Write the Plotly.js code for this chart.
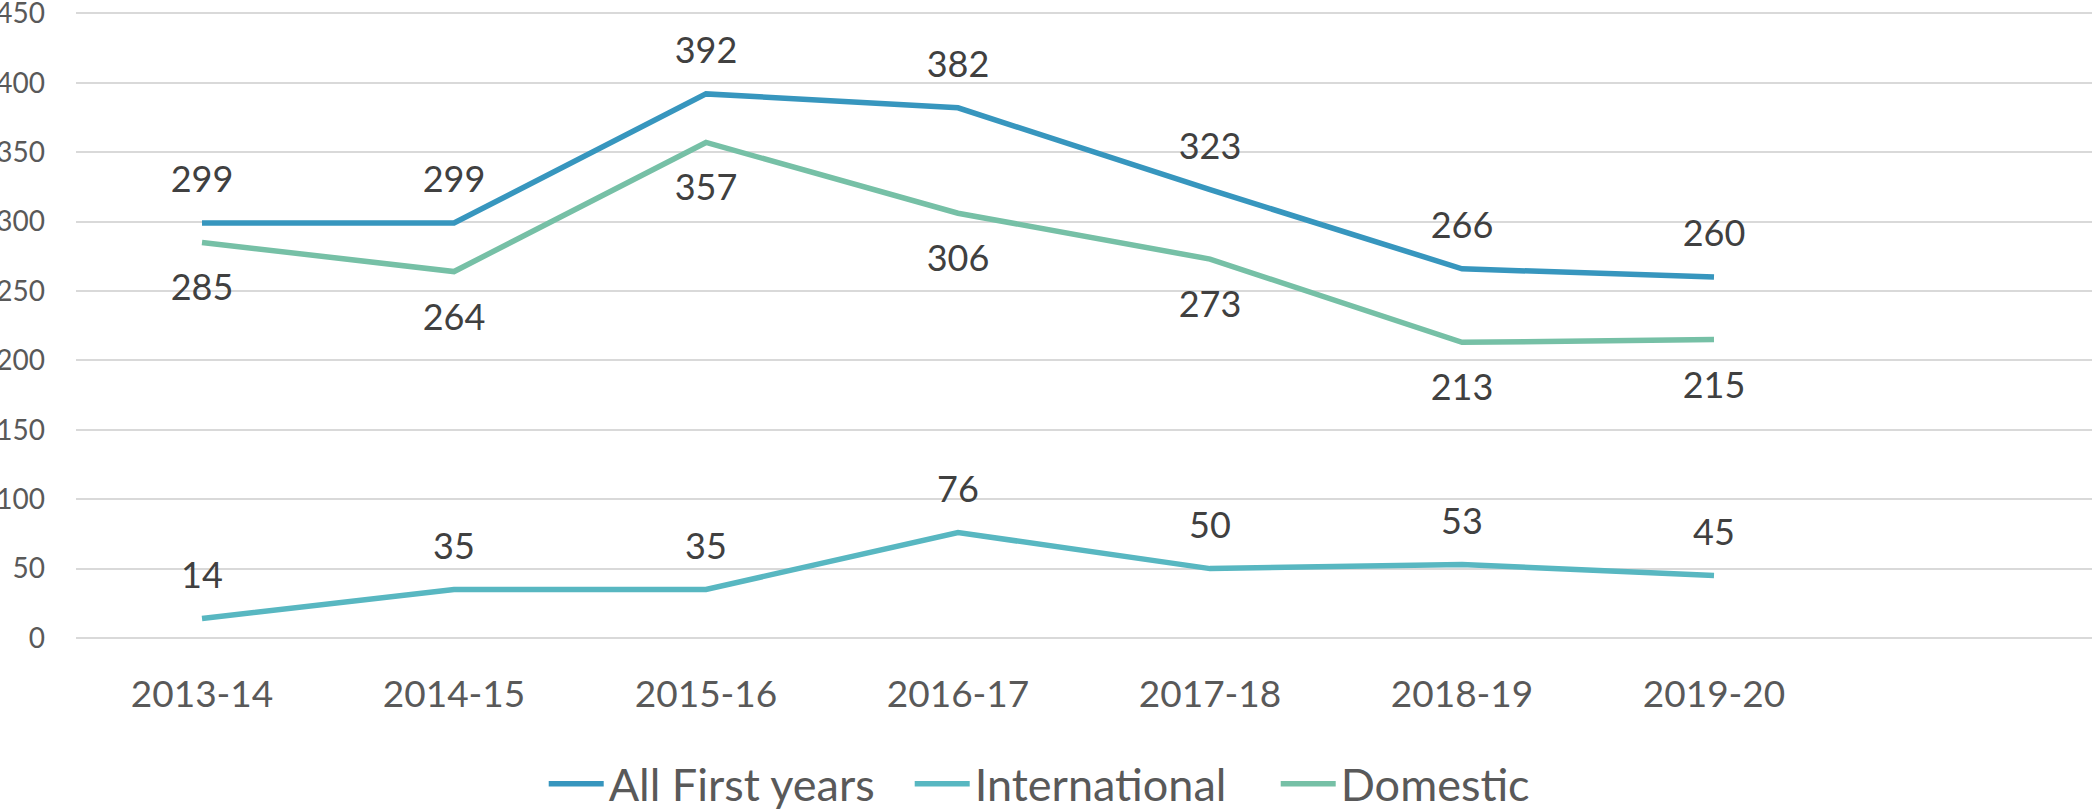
<!DOCTYPE html>
<html>
<head>
<meta charset="utf-8">
<script src="https://cdn.plot.ly/plotly-3.0.1.min.js"></script>
<style>
  html, body { margin: 0; padding: 0; background: #fff; }
  #chart { width: 2092px; height: 810px; }
</style>
</head>
<body>
<div id="chart"></div>
<script>
const categories = ["2013-14", "2014-15", "2015-16", "2016-17", "2017-18", "2018-19", "2019-20"];
const allFirstYears = [299, 299, 392, 382, 323, 266, 260];
const international = [14, 35, 35, 76, 50, 53, 45];
const domestic = [285, 264, 357, 306, 273, 213, 215];
const seriesNames = ["All First years", "International", "Domestic"];
const seriesColors = ["#3796BE", "#58B7C1", "#76C0A6"];
const yTickValues = [0, 50, 100, 150, 200, 250, 300, 350, 400, 450];

const FONT = "Lato, 'Open Sans', sans-serif";

function makeTrace(name, values, color, pos, msize) {
  return {
    type: "scatter",
    mode: "lines+markers+text",
    name: name,
    x: categories,
    y: values,
    text: values.map(String),
    textposition: pos,
    textfont: { family: FONT, size: 36, color: "#404040" },
    line: { color: color, width: 5.5 },
    marker: { size: msize, color: "rgba(0,0,0,0)", opacity: 0, line: { width: 0, color: "rgba(0,0,0,0)" } },
    cliponaxis: false,
    hoverinfo: "x+y+name"
  };
}

const data = [
  makeTrace(seriesNames[0], allFirstYears, seriesColors[0], "top center", 33),
  makeTrace(seriesNames[1], international, seriesColors[1], "top center", 33),
  makeTrace(seriesNames[2], domestic, seriesColors[2], "bottom center", 48)
];

const layout = {
  width: 2092,
  height: 810,
  margin: { l: 76, r: 0, t: 12, b: 172 },
  paper_bgcolor: "#ffffff",
  plot_bgcolor: "#ffffff",
  font: { family: FONT, color: "#595959" },
  showlegend: true,
  xaxis: {
    type: "category",
    range: [-0.5, 7.5],
    showgrid: false,
    zeroline: false,
    showline: false,
    ticks: "",
    tickfont: { family: FONT, size: 37, color: "#595959" },
    ticklabelstandoff: 31,
    automargin: false,
    fixedrange: true
  },
  yaxis: {
    range: [0, 451],
    tickvals: yTickValues,
    showgrid: true,
    gridcolor: "#D9D9D9",
    gridwidth: 2,
    zeroline: true,
    zerolinecolor: "#D9D9D9",
    zerolinewidth: 2,
    showline: false,
    ticks: "",
    tickfont: { family: FONT, size: 28, color: "#595959" },
    ticklabelstandoff: 30,
    ticklabeloverflow: "allow",
    automargin: false,
    fixedrange: true
  },
  legend: {
    orientation: "h",
    x: 0.232,
    xanchor: "left",
    xref: "paper",
    y: 0.032,
    yanchor: "middle",
    yref: "container",
    font: { family: FONT, size: 45, color: "#595959" },
    itemwidth: 55,
    entrywidth: 296,
    entrywidthmode: "pixels",
    bgcolor: "rgba(0,0,0,0)",
    borderwidth: 0
  }
};

Plotly.newPlot("chart", data, layout, { displayModeBar: false, staticPlot: true });
</script>
</body>
</html>
